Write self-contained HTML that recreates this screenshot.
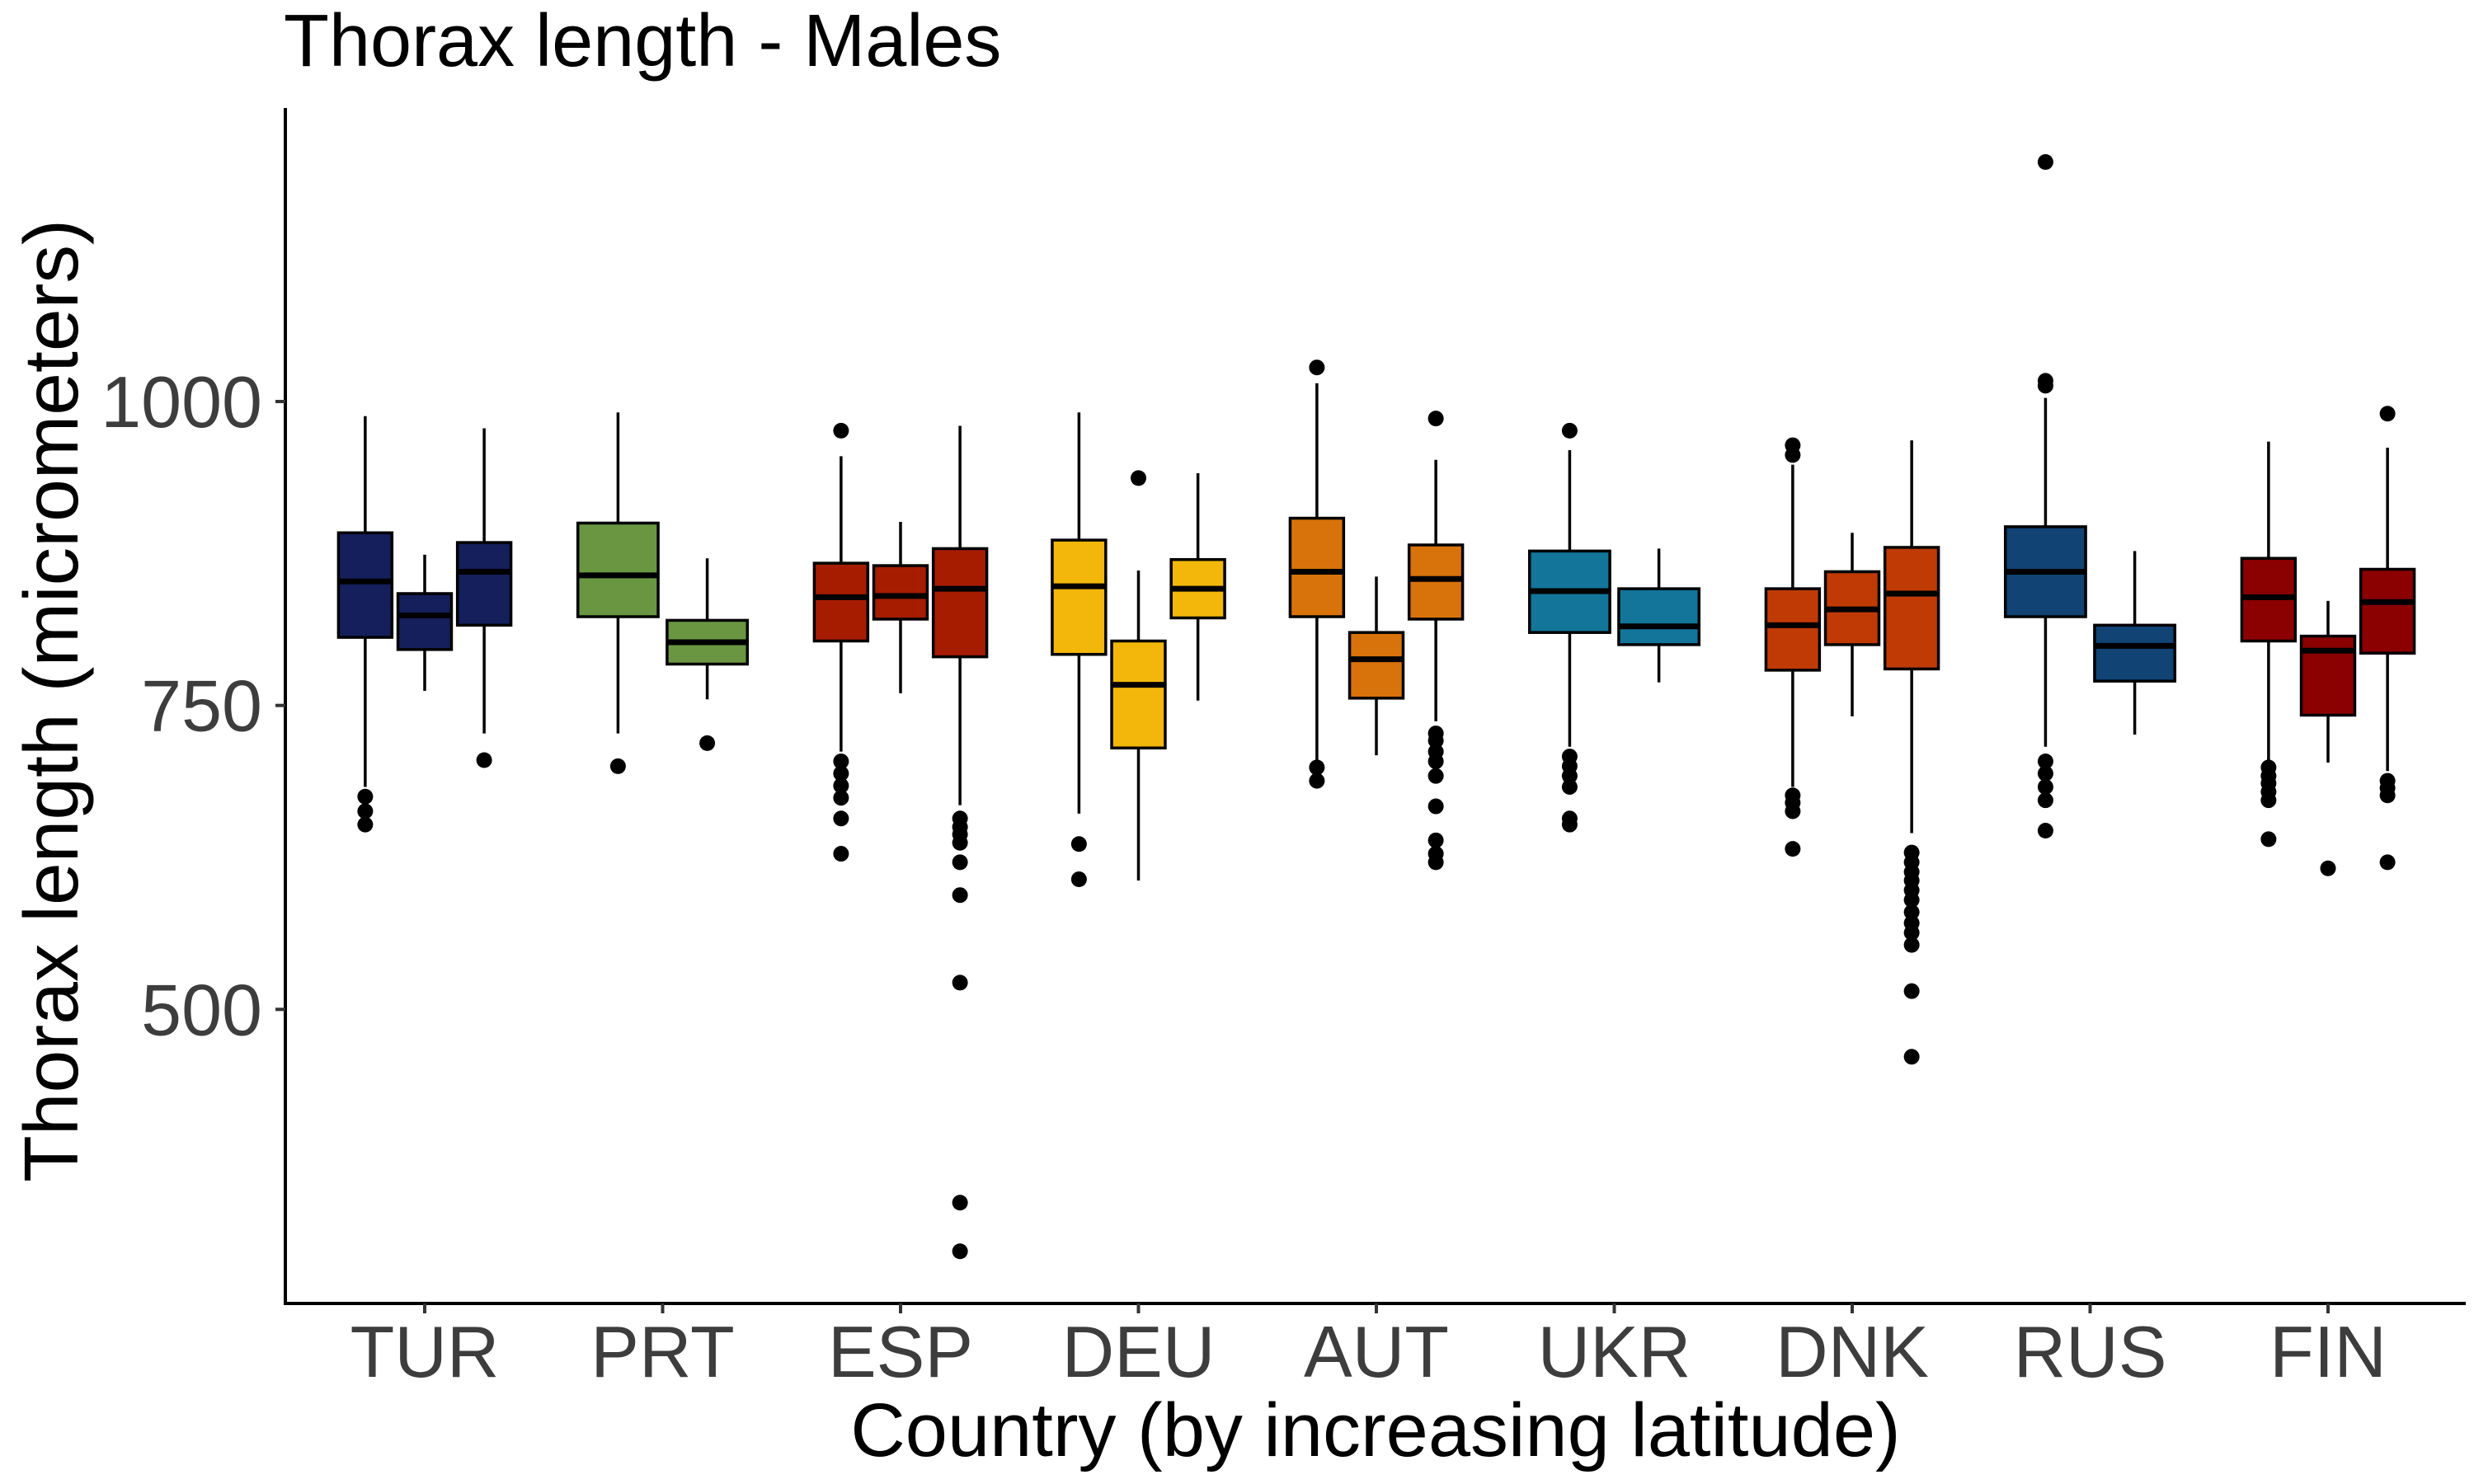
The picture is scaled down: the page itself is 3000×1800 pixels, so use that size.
<!DOCTYPE html>
<html><head><meta charset="utf-8"><style>
html,body{margin:0;padding:0;background:#fff;}
svg{display:block;}
text{font-family:"Liberation Sans",Arial,sans-serif;}
</style></head><body>
<svg id="chart" width="3000" height="1800" viewBox="0 0 3000 1800" xmlns="http://www.w3.org/2000/svg">
<rect width="3000" height="1800" fill="#fff"/>
<text x="344" y="80" font-size="90" fill="#000">Thorax length - Males</text>
<g id="marks"></g>
<line x1="346" y1="131" x2="346" y2="1583" stroke="#000" stroke-width="4"/>
<line x1="344" y1="1581" x2="2990" y2="1581" stroke="#000" stroke-width="4"/>
<g id="axes"></g>
<text x="1668" y="1766" font-size="92" text-anchor="middle" fill="#000">Country (by increasing latitude)</text>
<text transform="translate(94,850) rotate(-90)" font-size="93" text-anchor="middle" fill="#000">Thorax length (micrometers)</text>
</svg>
<script>
const countries = ["TUR","PRT","ESP","DEU","AUT","UKR","DNK","RUS","FIN"];
const countryColors = ["#141f5b","#6a9642","#a61c00","#f2b70a","#d8720a","#127599","#c03a05","#114375","#8b0000"];
const yTicks = [500,750,1000];
const boxCountry = [0,0,0,1,1,2,2,2,3,3,3,4,4,4,5,5,6,6,6,7,7,8,8,8];
const boxLow =  [683,762,727,727,755,712,760,668,661,606,754,704,709,737,716,769,683,741,645,716,726,704,703,696];
const boxQ1 =   [806,796,816,823,784,803,821,790,792,715,822,823,756,821,810,800,779,800,780,823,770,803,742,793];
const boxMed =  [852,824,860,857,802,839,840,846,848,767,846,860,788,854,844,815,816,829,842,860,799,839,795,835];
const boxQ3 =   [892,842,884,900,820,867,865,879,886,803,870,904,810,882,877,846,846,860,880,897,816,871,807,862];
const boxHigh = [988,874,978,991,871,955,901,980,991,861,941,1015,856,952,960,879,948,892,968,1003,877,967,836,962];
const boxOutliers = [
 [675,663,652],[],[705],
 [700],[719],
 [976,704,694,684,674,657,628],[],[657,650,644,637,621,594,522,341,301],
 [636,607],[937],[],
 [1028,699,688],[],[986,727,721,712,704,692,667,639,628,621],
 [976,708,700,692,683,657,652],[],
 [964,956,676,670,663,632],[],[629,621,613,606,598,590,580,571,563,553,515,461],
 [1197,1017,1013,704,694,683,672,647],[],
 [699,692,686,679,672,640],[616],[990,688,682,676,621]
];

const NS="http://www.w3.org/2000/svg";
const yScale = v => 487 - (v-1000)*1.4746;
const xCenter = i => 515 + i*288.5;
const spacing = 288.5;
const marks=document.getElementById('marks');
const axes=document.getElementById('axes');
function mk(tag, attrs, parent){const e=document.createElementNS(NS,tag);for(const k in attrs)e.setAttribute(k,attrs[k]);parent.appendChild(e);return e;}

const counts = countries.map((c,i)=>boxCountry.filter(b=>b===i).length);
const seen = countries.map(()=>0);
boxCountry.forEach((ci,b)=>{
  const n=counts[ci], k=seen[ci]++;
  const slot=0.75/n;
  const cx=xCenter(ci)+(-0.375+slot*(k+0.5))*spacing;
  const w=0.9*slot*spacing;
  const g=mk('g',{},marks);
  
  
  const wl=mk('line',{x1:cx,x2:cx,y1:yScale(boxQ3[b]),y2:yScale(boxHigh[b]),stroke:'#000','stroke-width':3.5},g);
  
  
  const wl2=mk('line',{x1:cx,x2:cx,y1:yScale(boxQ1[b]),y2:yScale(boxLow[b]),stroke:'#000','stroke-width':3.5},g);
  
  
  const r=mk('rect',{x:cx-w/2,y:yScale(boxQ3[b]),width:w,height:yScale(boxQ1[b])-yScale(boxQ3[b]),fill:countryColors[ci],stroke:'#000','stroke-width':3.5},g);
  
  
  const m=mk('line',{x1:cx-w/2,x2:cx+w/2,y1:yScale(boxMed[b]),y2:yScale(boxMed[b]),stroke:'#000','stroke-width':7},g);
  
  
  boxOutliers[b].forEach(v=>{
    const c=mk('circle',{cx:cx,cy:yScale(v),r:9.5,fill:'#000'},g);
    
    
  });
});

yTicks.forEach(t=>{
  const y=yScale(t);
  const l=mk('line',{x1:334,x2:346,y1:y,y2:y,stroke:'#333','stroke-width':4},axes);
  
  
  const tx=mk('text',{x:318,y:y+31,'font-size':88,'text-anchor':'end',fill:'#3d3d3d'},axes);
  tx.textContent=t;
  
  
});
countries.forEach((c,i)=>{
  const x=xCenter(i);
  const l=mk('line',{x1:x,x2:x,y1:1581,y2:1593,stroke:'#333','stroke-width':4},axes);
  
  
  const tx=mk('text',{x:x,y:1670,'font-size':88,'text-anchor':'middle',fill:'#3d3d3d'},axes);
  tx.textContent=c;
  
  
});
</script>
</body></html>
